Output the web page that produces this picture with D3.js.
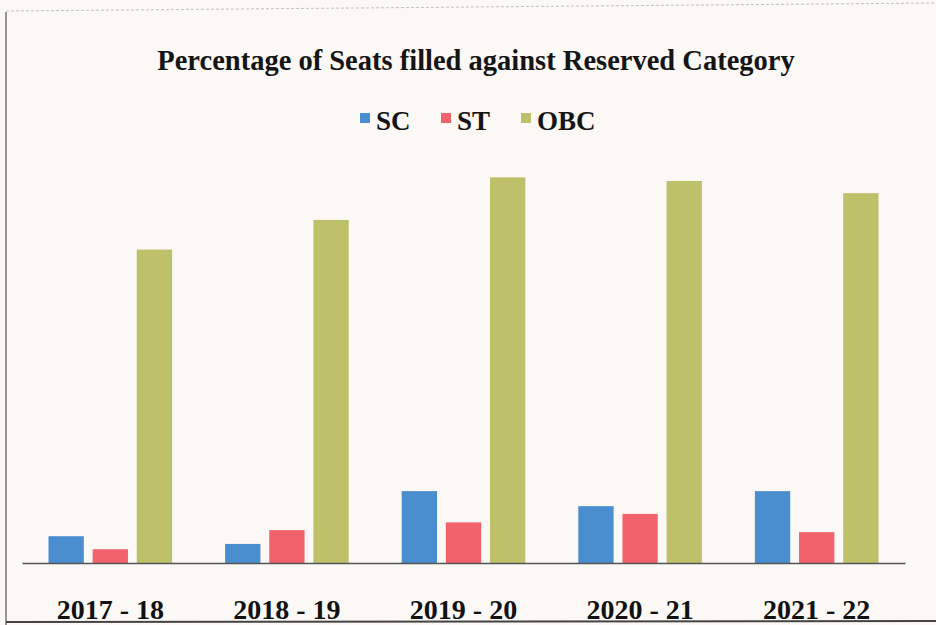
<!DOCTYPE html>
<html><head><meta charset="utf-8">
<script src="https://cdn.jsdelivr.net/npm/d3@7/dist/d3.min.js"></script>
<style>
html,body{margin:0;padding:0;background:#fbf8f6;}
svg{display:block;}
</style></head>
<body>
<svg id="chart" width="936" height="625"></svg>
<script>
const years = ["2017 - 18", "2018 - 19", "2019 - 20", "2020 - 21", "2021 - 22"];
const seriesNames = ["SC", "ST", "OBC"];
const scValues = [6.6, 4.7, 17.7, 14.0, 17.7];
const stValues = [3.4, 8.1, 10.0, 12.1, 7.6];
const obcValues = [77.2, 84.5, 95.0, 94.1, 91.1];
const colors = ["#4a8ed0", "#f2626c", "#bfc16a"];

const svg = d3.select("#chart");
const W = 936, H = 625;
const baseY = 563, topY = 157;
const series = [scValues, stValues, obcValues];
const rows = years.map((y, i) => ({year: y, vals: seriesNames.map((s, j) => ({key: s, value: series[j][i], idx: j}))}));

// photo frame
svg.append("line").attr("x1", 6).attr("x2", 6).attr("y1", 12).attr("y2", 625).attr("stroke", "#777").attr("stroke-width", 1.5);
svg.append("line").attr("x1", 6).attr("x2", 936).attr("y1", 11).attr("y2", 3).attr("stroke", "#c9bfc0").attr("stroke-width", 1).attr("stroke-dasharray", "3,2");
svg.append("line").attr("x1", 6).attr("x2", 936).attr("y1", 622).attr("y2", 621).attr("stroke", "#444").attr("stroke-width", 2);

const x0 = d3.scaleBand().domain(years).range([22, 905]).paddingInner(0.3).paddingOuter(0.15);
const x1 = d3.scaleBand().domain(seriesNames).range([0, x0.bandwidth()]).paddingInner(0.2);
const y = d3.scaleLinear().domain([0, 100]).range([baseY, topY]);

const g = svg.append("g");
g.selectAll("g.grp").data(rows).join("g").attr("class", "grp")
  .attr("transform", d => `translate(${x0(d.year)},0)`)
  .selectAll("rect").data(d => d.vals).join("rect")
  .attr("x", d => x1(d.key)).attr("width", x1.bandwidth())
  .attr("y", d => y(d.value)).attr("height", d => baseY - y(d.value))
  .attr("fill", d => colors[d.idx]);

// x axis
const xAxis = d3.axisBottom(x0).tickSize(0).tickPadding(36);
const ax = svg.append("g").attr("transform", `translate(0,${baseY})`).call(xAxis);
ax.select(".domain").attr("stroke", "#555").attr("stroke-width", 1.5);
ax.selectAll("text").attr("font-family", "'Liberation Serif','Times New Roman',serif")
  .attr("font-weight", "bold").attr("font-size", 28).attr("fill", "#111");

// title
svg.append("text").attr("x", 476).attr("y", 70).attr("text-anchor", "middle")
  .attr("font-family", "'Liberation Serif','Times New Roman',serif").attr("font-weight", "bold")
  .attr("font-size", 28.5).attr("fill", "#151515")
  .text("Percentage of Seats filled against Reserved Category");

// legend
const legX = [360, 441, 521];
const leg = svg.append("g");
seriesNames.forEach((s, i) => {
  leg.append("rect").attr("x", legX[i]).attr("y", 113).attr("width", 10).attr("height", 10).attr("fill", colors[i]);
  leg.append("text").attr("x", legX[i] + 16).attr("y", 130)
    .attr("font-family", "'Liberation Serif','Times New Roman',serif").attr("font-weight", "bold")
    .attr("font-size", 27).attr("fill", "#151515").text(s);
});
</script>
</body></html>
